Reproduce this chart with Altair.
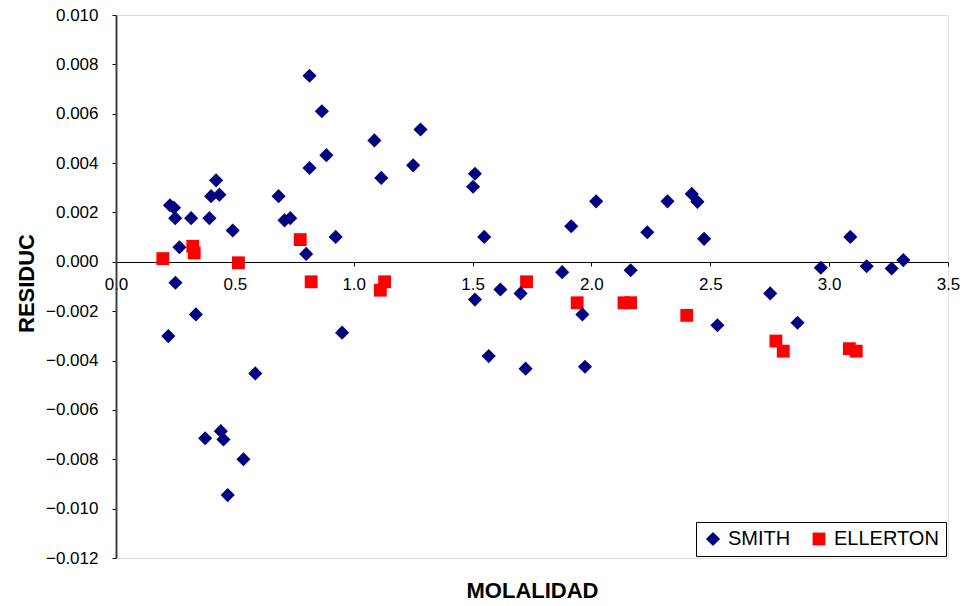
import altair as alt
import pandas as pd

# Residuals vs. molality for the two data sets
smith_m = [0.814, 0.866, 0.885, 0.814, 0.421, 0.400, 0.435, 0.227, 0.244, 0.249,
           0.316, 0.393, 0.491, 0.684, 0.709, 0.733, 0.924, 0.800, 0.267, 0.250,
           0.336, 0.220, 0.951, 0.586, 0.375, 0.441, 0.452, 0.536, 0.470, 1.087,
           1.281, 1.116, 1.250, 1.510, 1.502, 1.549, 1.915, 2.020, 2.235, 1.877,
           2.165, 1.510, 1.617, 1.702, 1.962, 1.568, 1.723, 1.973, 2.320, 2.422,
           2.446, 2.474, 2.965, 3.089, 3.158, 3.263, 3.312, 2.752, 2.530, 2.867]
smith_r = [0.00754, 0.00610, 0.00432, 0.00380, 0.00330, 0.00266, 0.00272, 0.00229, 0.00219, 0.00177,
           0.00177, 0.00177, 0.00127, 0.00266, 0.00168, 0.00177, 0.00101, 0.00032, 0.00059, -0.00085,
           -0.00213, -0.00301, -0.00287, -0.00452, -0.00715, -0.00686, -0.00720, -0.00800, -0.00945, 0.00492,
           0.00536, 0.00340, 0.00391, 0.00357, 0.00304, 0.00101, 0.00144, 0.00245, 0.00120, -0.00042,
           -0.00034, -0.00153, -0.00112, -0.00128, -0.00213, -0.00382, -0.00433, -0.00425, 0.00245, 0.00275,
           0.00243, 0.00093, -0.00024, 0.00101, -0.00018, -0.00027, 0.00007, -0.00128, -0.00257, -0.00247]

ellerton_m = [0.197, 0.323, 0.329, 0.515, 0.775, 0.821, 1.112, 1.130, 1.727,
              1.940, 2.137, 2.165, 2.401, 2.776, 2.807, 3.085, 3.114]
ellerton_r = [0.00013, 0.00063, 0.00036, -0.00004, 0.00090, -0.00081, -0.00115, -0.00081, -0.00081,
              -0.00166, -0.00166, -0.00166, -0.00217, -0.00321, -0.00362, -0.00352, -0.00362]

series = ["SMITH", "ELLERTON"]

df = pd.concat([
    pd.DataFrame({"m": smith_m, "r": smith_r, "serie": series[0]}),
    pd.DataFrame({"m": ellerton_m, "r": ellerton_r, "serie": series[1]}),
], ignore_index=True)

FONT = "Liberation Sans"

x_axis = alt.Axis(
    values=[0.0, 0.5, 1.0, 1.5, 2.0, 2.5, 3.0, 3.5], format=".1f",
    offset=-296, grid=False, domainColor="#000000", domainWidth=1,
    tickColor="#000000", tickSize=4, labelPadding=10, labelFlush=False,
    labelFont=FONT, labelFontSize=17, labelColor="#000000",
    title="MOLALIDAD", titleFont=FONT, titleFontSize=22, titleFontWeight="bold",
    titleColor="#000000", titleY=335, titleBaseline="alphabetic",
)

y_axis = alt.Axis(
    values=[0.010, 0.008, 0.006, 0.004, 0.002, 0.0, -0.002, -0.004, -0.006,
            -0.008, -0.010, -0.012],
    format=".3f", grid=False, domainColor="#404040", domainWidth=2,
    tickColor="#000000", tickSize=4, labelPadding=14, labelFlush=False,
    labelFont=FONT, labelFontSize=17, labelColor="#000000",
    title="RESIDUC", titleFont=FONT, titleFontSize=22, titleFontWeight="bold",
    titleColor="#000000", titleX=-83, titleY=268, titleBaseline="alphabetic",
)

chart = alt.Chart(df).mark_point(filled=True, opacity=1).encode(
    x=alt.X("m:Q", scale=alt.Scale(domain=[0, 3.5], nice=False, zero=False), axis=x_axis),
    y=alt.Y("r:Q", scale=alt.Scale(domain=[-0.012, 0.010], nice=False, zero=False), axis=y_axis),
    color=alt.Color("serie:N", scale=alt.Scale(domain=series, range=["#000080", "#FF0000"]),
                    legend=alt.Legend(
                        title=None, orient="bottom-right", direction="horizontal", columns=2,
                        offset=2, padding=7, strokeColor="#000000", fillColor="#FFFFFF",
                        labelFont=FONT, labelFontSize=20, labelColor="#000000",
                        symbolSize=200, symbolType="circle", columnPadding=18, labelOffset=5,
                        symbolStrokeWidth=0, rowPadding=0)),
    shape=alt.Shape("serie:N", scale=alt.Scale(domain=series, range=["diamond", "square"]),
                    legend=None),
    size=alt.Size("serie:N", scale=alt.Scale(domain=series, range=[200, 165]), legend=None),
    order=alt.Order("serie:N", sort="ascending"),
).properties(
    width=832, height=543,
    autosize=alt.AutoSizeParams(type="none"),
    padding={"left": 116, "top": 15, "right": 21, "bottom": 48},
).configure_view(
    stroke="#808080", strokeWidth=2,
).configure(background="#FFFFFF")

chart.save("out.html", embed_options={"renderer": "svg", "actions": False})
